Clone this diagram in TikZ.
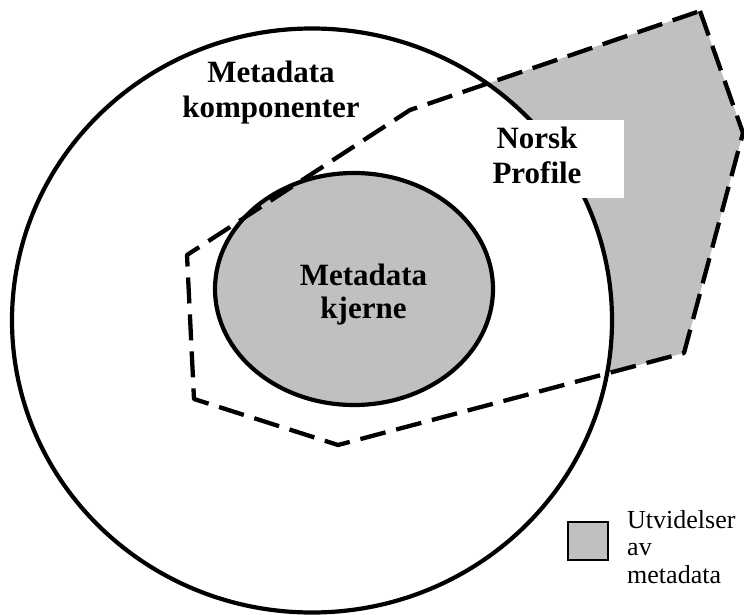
\documentclass[tikz,border=0pt]{standalone}
\usepackage{fontspec}
\setmainfont{Liberation Serif}
\usetikzlibrary{shapes.geometric}
\definecolor{fillgray}{RGB}{192,192,192}
\begin{document}
\begin{tikzpicture}[x=1pt,y=-1pt,
  solidline/.style={line width=4.2pt},
  dashline/.style={line width=4.3pt, dash pattern=on 26pt off 11pt, line join=round},
  title/.style={font=\fontsize{31}{34}\selectfont\bfseries, anchor=base, inner sep=0pt},
  legtext/.style={font=\fontsize{26}{27}\selectfont, anchor=base west, inner sep=0pt}]
\useasboundingbox (0,0) rectangle (744,615);
\coordinate (p1) at (700,11);
\coordinate (p2) at (743,133);
\coordinate (p3) at (684,353);
\coordinate (p4) at (338,445);
\coordinate (p5) at (194,399);
\coordinate (p6) at (187,255);
\coordinate (p7) at (410,110);
% gray extension area
\fill[fillgray] (p1)--(p2)--(p3)--(p4)--(p5)--(p6)--(p7)--cycle;
% outer circle (metadata komponenter)
\node[ellipse, draw, solidline, fill=white, minimum width=600pt, minimum height=584pt, inner sep=0pt] (outer) at (312,320.5) {};
% inner core
\node[ellipse, draw, solidline, fill=fillgray, minimum width=278pt, minimum height=232pt, inner sep=0pt] (core) at (354,289) {};
% white label box
\node[fill=white, minimum width=136pt, minimum height=78pt, inner sep=0pt] (norskbox) at (556,159) {};
% dashed profile outline
\draw[dashline] (p1)--(p2)--(p3)--(p4)--(p5)--(p6)--(p7)--cycle;
% texts
\node[title] (mk1) at (271,83) {Metadata};
\node[title] (mk2) at (271,118) {komponenter};
\node[title] (kj1) at (363.5,285) {Metadata};
\node[title] (kj2) at (363.5,318) {kjerne};
\node[title] (np1) at (537,148) {Norsk};
\node[title] (np2) at (537,183) {Profile};
% legend
\node[draw, line width=1.6pt, fill=fillgray, minimum width=40pt, minimum height=38pt, inner sep=0pt] (legbox) at (588,541) {};
\node[legtext] (leg1) at (627,528) {Utvidelser};
\node[legtext] (leg2) at (627,555) {av};
\node[legtext] (leg3) at (627,583) {metadata};
\end{tikzpicture}
\end{document}
